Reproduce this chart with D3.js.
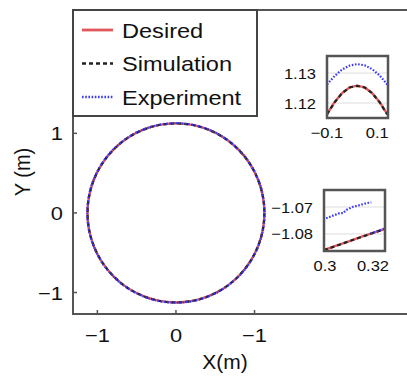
<!DOCTYPE html>
<html>
<head>
<meta charset="utf-8">
<script src="https://cdn.jsdelivr.net/npm/d3@7"></script>
<style>
  body { margin: 0; background: #fff; }
  svg text { font-family: "Liberation Sans", Arial, sans-serif; fill: #111; }
</style>
</head>
<body>
<div id="chart"></div>
<script>
// circle radii (m) for the three trajectories
const radiusDesired = 1.125;
const radiusSimulation = 1.125;
const radiusExperiment = 1.128;

// main axes ticks
const xTicks = [-1, 0, 1];
const xTickLabels = ["\u22121", "0", "\u22121"];
const yTicks = [-1, 0, 1];
const yTickLabels = ["\u22121", "0", "1"];

// inset 1: top of the circle
const in1X = [-0.1, -0.07, -0.04, -0.01, 0.02, 0.05, 0.08, 0.11, 0.14];
const in1Desired = [1.1163, 1.1203, 1.1233, 1.1252, 1.1258, 1.1252, 1.1233, 1.1203, 1.1163];
const in1Simulation = [1.1162, 1.1202, 1.1233, 1.1252, 1.1257, 1.1252, 1.1233, 1.1202, 1.1162];
const in1Experiment = [1.1262, 1.1290, 1.1312, 1.1325, 1.1330, 1.1326, 1.1313, 1.1292, 1.1262];
const in1XTicks = [-0.1, 0.1];
const in1XTickLabels = ["\u22120.1", "0.1"];
const in1YTicks = [1.12, 1.13];

// inset 2: bottom of the circle
const in2X = [0.2996, 0.305, 0.31, 0.315, 0.32, 0.325];
const in2Desired = [-1.0859, -1.0842, -1.0827, -1.0811, -1.0796, -1.0781];
const in2Simulation = [-1.0860, -1.0843, -1.0827, -1.0812, -1.0796, -1.0781];
// experiment has a gap (null) between its two visible pieces
const in2ExpX = [0.3005, 0.3033, 0.3061, 0.3075, 0.3089, 0.3117, 0.3145, 0.3172, 0.3193, null, 0.319, 0.322, 0.325];
const in2ExpY = [-1.0742, -1.0732, -1.0723, -1.0723, -1.0711, -1.0699, -1.0693, -1.0686, -1.0683, null, -1.0798, -1.0789, -1.0779];
const in2XTicks = [0.3, 0.32];
const in2XTickLabels = ["0.3", "0.32"];
const in2YTicks = [-1.08, -1.07];
const in2YTickLabels = ["\u22121.08", "\u22121.07"];

const series = [
  { name: "Desired", color: "#e0585c", dash: null, width: 2.4 },
  { name: "Simulation", color: "#222", dash: "4,3", width: 2.2 },
  { name: "Experiment", color: "#3a3aff", dash: "1.6,1.6", width: 2.2 }
];

const width = 407, height = 378;
const svg = d3.select("#chart").append("svg")
  .attr("width", width)
  .attr("height", height);

const x = d3.scaleLinear().domain([-1.31, 2.94]).range([73, 407]);
const y = d3.scaleLinear().domain([-1.27, 2.55]).range([314, 10]);
const axisColor = "#555";

// stretched text helper (labels in this figure are a bit wide)
function label(g, tx, ty, str, size, anchor, sx) {
  return g.append("text")
    .attr("transform", `translate(${tx},${ty}) scale(${sx || 1},1)`)
    .attr("text-anchor", anchor || "start")
    .style("font-size", size + "px")
    .text(str);
}

// trajectories
const radii = [radiusDesired, radiusSimulation, radiusExperiment];
svg.append("g").attr("class", "circles")
  .selectAll("ellipse")
  .data(series)
  .join("ellipse")
  .attr("cx", x(0))
  .attr("cy", y(0))
  .attr("rx", (d, i) => x(radii[i]) - x(0))
  .attr("ry", (d, i) => y(0) - y(radii[i]))
  .attr("fill", "none")
  .attr("stroke", d => d.color)
  .attr("stroke-width", d => d.width)
  .attr("stroke-dasharray", d => d.dash);

// axes frame (left, bottom, top)
const frame = svg.append("g").attr("stroke", axisColor).attr("stroke-width", 2);
frame.append("line").attr("x1", x.range()[0]).attr("x2", x.range()[0]).attr("y1", y.range()[1]).attr("y2", y.range()[0] + 1);
frame.append("line").attr("x1", x.range()[0]).attr("x2", width).attr("y1", y.range()[0]).attr("y2", y.range()[0]);
frame.append("line").attr("x1", x.range()[0]).attr("x2", width).attr("y1", y.range()[1]).attr("y2", y.range()[1]);

// tick marks point inward
svg.append("g").selectAll("line").data(xTicks).join("line")
  .attr("x1", d => x(d)).attr("x2", d => x(d))
  .attr("y1", y.range()[0]).attr("y2", y.range()[0] - 4)
  .attr("stroke", axisColor).attr("stroke-width", 1.5);
svg.append("g").selectAll("line").data(yTicks).join("line")
  .attr("x1", x.range()[0]).attr("x2", x.range()[0] + 4)
  .attr("y1", d => y(d)).attr("y2", d => y(d))
  .attr("stroke", axisColor).attr("stroke-width", 1.5);

const tickText = svg.append("g");
xTicks.forEach((t, i) => label(tickText, x(t), 342, xTickLabels[i], 19, "middle", 1.15));
yTicks.forEach((t, i) => label(tickText, 63, y(t) + 7, yTickLabels[i], 19, "end", 1.15));

label(svg, 225, 369, "X(m)", 20, "middle", 1.05);
svg.append("text")
  .attr("transform", `translate(30,${172}) rotate(-90) scale(1,1.1)`)
  .attr("text-anchor", "middle")
  .style("font-size", "20px")
  .text("Y (m)");

// legend
const legend = svg.append("g");
legend.append("rect")
  .attr("x", 73).attr("y", 10).attr("width", 184).attr("height", 106)
  .attr("fill", "#fff").attr("stroke", "#444").attr("stroke-width", 2);
series.forEach((s, i) => {
  const ly = 30 + i * 33.5;
  legend.append("line")
    .attr("x1", 82).attr("x2", 113).attr("y1", ly).attr("y2", ly)
    .attr("stroke", s.color).attr("stroke-width", s.width + 0.4)
    .attr("stroke-dasharray", s.dash);
  label(legend, 122, ly + 7.5, s.name, 20.5, "start", 1.15);
});

// insets
function inset(box, xDom, yDom, lines, xt, xtl, yt, ytl) {
  const g = svg.append("g");
  const ix = d3.scaleLinear().domain(xDom).range([box.x0, box.x1]);
  const iy = d3.scaleLinear().domain(yDom).range([box.y1, box.y0]);
  g.append("rect").attr("x", box.x0).attr("y", box.y0)
    .attr("width", box.x1 - box.x0).attr("height", box.y1 - box.y0)
    .attr("fill", "#fff");
  // faint grid at the y ticks
  g.append("g").selectAll("line").data(yt).join("line")
    .attr("x1", box.x0).attr("x2", box.x1)
    .attr("y1", d => iy(d)).attr("y2", d => iy(d))
    .attr("stroke", "#ddd").attr("stroke-width", 1);
  const line = d3.line()
    .defined(d => d[0] != null && d[1] != null)
    .x(d => ix(d[0])).y(d => iy(d[1]));
  g.append("defs").append("clipPath").attr("id", "clip" + box.x0 + box.y0)
    .append("rect").attr("x", box.x0).attr("y", box.y0)
    .attr("width", box.x1 - box.x0).attr("height", box.y1 - box.y0);
  g.append("g").attr("clip-path", `url(#clip${box.x0}${box.y0})`)
    .selectAll("path").data(lines).join("path")
    .attr("d", d => line(d.xs.map((v, k) => [v, d.ys[k]])))
    .attr("fill", "none")
    .attr("stroke", d => d.s.color)
    .attr("stroke-width", d => d.s.width)
    .attr("stroke-dasharray", d => d.s.dash);
  g.append("rect").attr("x", box.x0).attr("y", box.y0)
    .attr("width", box.x1 - box.x0).attr("height", box.y1 - box.y0)
    .attr("fill", "none").attr("stroke", "#555").attr("stroke-width", 2.5);
  xt.forEach((t, i) => label(g, ix(t), box.y1 + 20, xtl[i], 15, "middle", 1.1));
  yt.forEach((t, i) => label(g, box.x0 - 11, iy(t) + 5.5, ytl[i], 15, "end", 1.1));
}

inset({ x0: 327, x1: 388, y0: 56, y1: 118 }, [-0.1, 0.143], [1.115, 1.1357], [
  { s: series[0], xs: in1X, ys: in1Desired },
  { s: series[1], xs: in1X, ys: in1Simulation },
  { s: series[2], xs: in1X, ys: in1Experiment }
], in1XTicks, in1XTickLabels, in1YTicks, in1YTicks.map(d => d.toFixed(2)));

inset({ x0: 324, x1: 385, y0: 190, y1: 251 }, [0.2996, 0.325], [-1.0863, -1.0637], [
  { s: series[0], xs: in2X, ys: in2Desired },
  { s: series[1], xs: in2X, ys: in2Simulation },
  { s: series[2], xs: in2ExpX, ys: in2ExpY }
], in2XTicks, in2XTickLabels, in2YTicks, in2YTickLabels);
</script>
</body>
</html>
